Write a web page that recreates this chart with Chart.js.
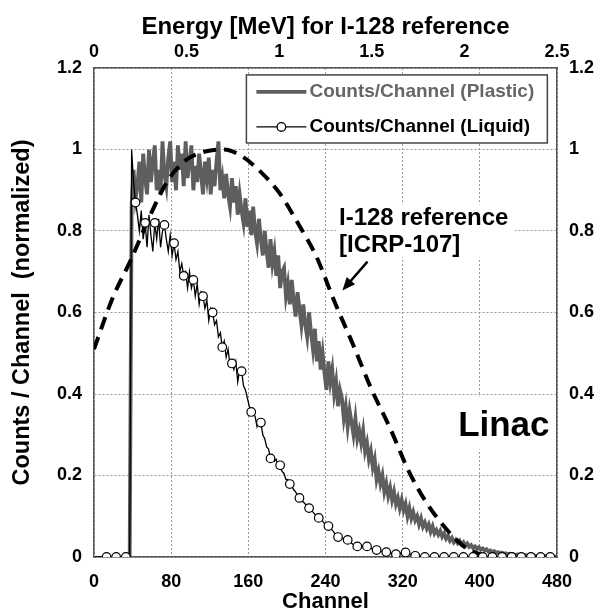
<!DOCTYPE html>
<html>
<head>
<meta charset="utf-8">
<script src="https://cdn.jsdelivr.net/npm/chart.js@4.4.1/dist/chart.umd.min.js"></script>
<style>
  html, body { margin: 0; padding: 0; background: #fff; }
  #chart { display: block; }
</style>
</head>
<body>
<canvas id="chart" width="598" height="615"></canvas>
<script>
// Axis ticks
const channelTicks = [0, 80, 160, 240, 320, 400, 480];
const energyTicks = [0, 0.5, 1, 1.5, 2, 2.5];
const countTicks = [0, 0.2, 0.4, 0.6, 0.8, 1, 1.2];

// Plastic scintillator, normalized counts, channels 37, 39, 41 ... 479
const plasticFirstChannel = 37;
const plasticCounts = [
    0, 0.86, 0.95, 0.88, 0.91, 0.97, 0.87, 0.99, 0.93, 0.89,
    1.00, 0.92, 0.97, 1.01, 0.90, 0.95, 0.89, 1.02, 0.94, 0.91,
    0.98, 1.02, 0.92, 0.97, 0.90, 1.01, 0.95, 0.99, 0.91, 1.02,
    0.93, 0.97, 1.01, 0.90, 0.96, 0.92, 0.99, 0.94, 0.89, 0.97,
    0.93, 0.98, 0.89, 0.95, 0.91, 0.97, 1.02, 0.90, 0.93, 0.88,
    0.94, 0.89, 0.86, 0.93, 0.87, 0.91, 0.84, 0.89, 0.85, 0.82,
    0.88, 0.81, 0.85, 0.79, 0.86, 0.80, 0.77, 0.83, 0.78, 0.74,
    0.80, 0.75, 0.71, 0.78, 0.72, 0.75, 0.69, 0.74, 0.66, 0.70,
    0.71, 0.64, 0.67, 0.62, 0.68, 0.63, 0.59, 0.65, 0.61, 0.57,
    0.62, 0.57, 0.54, 0.60, 0.55, 0.51, 0.56, 0.48, 0.53, 0.46,
    0.50, 0.45, 0.41, 0.48, 0.43, 0.46, 0.40, 0.43, 0.37, 0.41,
    0.39, 0.34, 0.37, 0.32, 0.36, 0.33, 0.30, 0.34, 0.29, 0.31,
    0.28, 0.31, 0.26, 0.28, 0.24, 0.26, 0.22, 0.24, 0.19, 0.21,
    0.18, 0.20, 0.16, 0.18, 0.15, 0.17, 0.14, 0.16, 0.13, 0.145,
    0.12, 0.14, 0.115, 0.13, 0.10, 0.12, 0.095, 0.11, 0.09, 0.10,
    0.08, 0.095, 0.075, 0.085, 0.07, 0.08, 0.062, 0.075, 0.058, 0.066,
    0.055, 0.064, 0.05, 0.058, 0.045, 0.052, 0.04, 0.047, 0.036, 0.042,
    0.034, 0.04, 0.031, 0.036, 0.027, 0.033, 0.025, 0.029, 0.022, 0.026,
    0.02, 0.024, 0.018, 0.021, 0.016, 0.019, 0.013, 0.016, 0.012, 0.014,
    0.01, 0.012, 0.009, 0.011, 0.008, 0.009, 0.007, 0.008, 0.006, 0.007,
    0.005, 0.006, 0.005, 0.005, 0.004, 0.005, 0.003, 0.004, 0.003, 0.004,
    0.003, 0.003, 0.002, 0.003, 0.002, 0.002, 0.002, 0.002, 0.001, 0.002,
    0.001, 0.001
];

// Liquid scintillator, normalized counts, channels 1, 3, 5 ... 479
const liquidFirstChannel = 1;
const liquidCounts = [
    0, 0, 0, 0, 0, 0, 0, 0, 0, 0,
    0, 0, 0, 0, 0, 0, 0, 0, 0, 1.0,
    0.92, 0.87, 0.84, 0.80, 0.85, 0.78, 0.82, 0.76, 0.84, 0.79,
    0.75, 0.82, 0.78, 0.83, 0.76, 0.80, 0.815, 0.78, 0.75, 0.79,
    0.74, 0.77, 0.73, 0.75, 0.70, 0.72, 0.69, 0.70, 0.66, 0.70,
    0.66, 0.68, 0.64, 0.67, 0.62, 0.65, 0.64, 0.61, 0.63, 0.58,
    0.61, 0.60, 0.57, 0.58, 0.54, 0.55, 0.515, 0.53, 0.49, 0.51,
    0.47, 0.475, 0.46, 0.48, 0.43, 0.46, 0.456, 0.42, 0.41, 0.39,
    0.37, 0.356, 0.35, 0.345, 0.32, 0.335, 0.33, 0.30, 0.29, 0.27,
    0.265, 0.242, 0.25, 0.235, 0.24, 0.22, 0.225, 0.21, 0.205, 0.19,
    0.19, 0.179, 0.175, 0.165, 0.16, 0.15, 0.145, 0.14, 0.135, 0.13,
    0.125, 0.12, 0.115, 0.11, 0.105, 0.10, 0.096, 0.092, 0.088, 0.082,
    0.08, 0.076, 0.07, 0.066, 0.06, 0.054, 0.049, 0.048, 0.046, 0.045,
    0.043, 0.042, 0.038, 0.034, 0.03, 0.028, 0.026, 0.026, 0.025, 0.027,
    0.026, 0.026, 0.023, 0.021, 0.019, 0.018, 0.017, 0.016, 0.015, 0.014,
    0.013, 0.012, 0.011, 0.01, 0.009, 0.008, 0.007, 0.008, 0.009, 0.01,
    0.011, 0.011, 0.009, 0.007, 0.005, 0.004, 0.003, 0.002, 0.002, 0.001,
    0.001, 0, 0, 0, 0, 0, 0, 0, 0, 0,
    0, 0, 0, 0, 0, 0, 0, 0, 0, 0,
    0, 0, 0, 0, 0, 0, 0, 0, 0, 0,
    0, 0, 0, 0, 0, 0, 0, 0, 0, 0,
    0, 0, 0, 0, 0, 0, 0, 0, 0, 0,
    0, 0, 0, 0, 0, 0, 0, 0, 0, 0,
    0, 0, 0, 0, 0, 0, 0, 0, 0, 0
];
// open circles sit on every 10th channel from channel 13
const liquidMarkerFrom = 13;
const liquidMarkerEvery = 10;

// I-128 beta spectrum reference [ICRP-107], plotted on the energy axis
const refEnergy = [0, 0.1, 0.2, 0.3, 0.4, 0.5, 0.6, 0.7, 0.8, 0.9, 1.0,
    1.1, 1.2, 1.3, 1.4, 1.5, 1.6, 1.7, 1.8, 1.9, 2.0, 2.1, 2.12];
const refValues = [0.51, 0.635, 0.73, 0.835, 0.925, 0.975, 0.995, 1.0, 0.983, 0.945, 0.894,
    0.82, 0.738, 0.625, 0.52, 0.41, 0.315, 0.21, 0.13, 0.07, 0.025, 0.004, 0];

const FONT = '"Liberation Sans", Arial, Helvetica, sans-serif';
const PLASTIC_GRAY = '#5e5e5e';

const plasticData = plasticCounts.map((v, i) => ({ x: plasticFirstChannel + 2 * i, y: v }));
const liquidData = liquidCounts.map((v, i) => ({ x: liquidFirstChannel + 2 * i, y: v }));
const refData = refEnergy.map((e, i) => ({ x: e, y: refValues[i] }));

function isMarker(ch) {
    return ch >= liquidMarkerFrom && (ch - liquidMarkerFrom) % liquidMarkerEvery === 0;
}

const plainNumber = v => String(Math.round(v * 100) / 100);

// white-backed labels, arrow and the framed legend
const annotations = {
    id: 'annotations',
    beforeDatasetsDraw(chart) {
        const { ctx, scales: { x, y } } = chart;
        ctx.save();

        // I-128 reference label
        ctx.fillStyle = '#fff';
        const bx = x.getPixelForValue(251), by = y.getPixelForValue(0.865);
        ctx.fillRect(bx, by, x.getPixelForValue(436) - bx, y.getPixelForValue(0.735) - by);
        ctx.fillStyle = '#000';
        ctx.font = 'bold 24px ' + FONT;
        ctx.textBaseline = 'middle';
        ctx.textAlign = 'left';
        ctx.fillText('I-128 reference', x.getPixelForValue(254), y.getPixelForValue(0.83));
        ctx.fillText('[ICRP-107]', x.getPixelForValue(254), y.getPixelForValue(0.765));

        // arrow
        const ax1 = x.getPixelForValue(283.5), ay1 = y.getPixelForValue(0.725);
        const ax2 = x.getPixelForValue(257.5), ay2 = y.getPixelForValue(0.654);
        const ang = Math.atan2(ay2 - ay1, ax2 - ax1);
        ctx.strokeStyle = '#000';
        ctx.lineWidth = 2.5;
        ctx.beginPath();
        ctx.moveTo(ax1, ay1);
        ctx.lineTo(ax2 - 8 * Math.cos(ang), ay2 - 8 * Math.sin(ang));
        ctx.stroke();
        ctx.beginPath();
        ctx.moveTo(ax2, ay2);
        ctx.lineTo(ax2 - 13 * Math.cos(ang) + 5.5 * Math.sin(ang), ay2 - 13 * Math.sin(ang) - 5.5 * Math.cos(ang));
        ctx.lineTo(ax2 - 13 * Math.cos(ang) - 5.5 * Math.sin(ang), ay2 - 13 * Math.sin(ang) + 5.5 * Math.cos(ang));
        ctx.closePath();
        ctx.fill();

        // Linac
        ctx.fillStyle = '#fff';
        const lx = x.getPixelForValue(373.5), ly = y.getPixelForValue(0.394);
        ctx.fillRect(lx, ly, x.getPixelForValue(475) - lx, y.getPixelForValue(0.264) - ly);
        ctx.fillStyle = '#000';
        ctx.font = 'bold 35px ' + FONT;
        ctx.textBaseline = 'alphabetic';
        ctx.fillText('Linac', x.getPixelForValue(377.5), y.getPixelForValue(0.296));
        ctx.restore();
    },
    afterDatasetsDraw(chart) {
        const { ctx, scales: { x, y } } = chart;
        const left = x.getPixelForValue(158), right = x.getPixelForValue(470);
        const top = y.getPixelForValue(1.183), bottom = y.getPixelForValue(1.016);
        ctx.save();
        ctx.fillStyle = '#fff';
        ctx.fillRect(left, top, right - left, bottom - top);
        ctx.strokeStyle = '#444';
        ctx.lineWidth = 1.5;
        ctx.strokeRect(left, top, right - left, bottom - top);

        const row1 = top + 17, row2 = top + 52;
        const s1 = left + 10, s2 = left + 60;

        ctx.strokeStyle = PLASTIC_GRAY;
        ctx.lineWidth = 3.8;
        ctx.beginPath();
        ctx.moveTo(s1, row1);
        ctx.lineTo(s2, row1);
        ctx.stroke();

        ctx.strokeStyle = '#000';
        ctx.lineWidth = 1.3;
        ctx.beginPath();
        ctx.moveTo(s1, row2);
        ctx.lineTo(s2, row2);
        ctx.stroke();
        ctx.beginPath();
        ctx.arc((s1 + s2) / 2, row2, 4.3, 0, Math.PI * 2);
        ctx.fillStyle = '#fff';
        ctx.fill();
        ctx.stroke();

        ctx.font = 'bold 19px ' + FONT;
        ctx.textBaseline = 'middle';
        ctx.textAlign = 'left';
        ctx.fillStyle = '#666';
        ctx.fillText('Counts/Channel (Plastic)', s2 + 3, row1);
        ctx.fillStyle = '#000';
        ctx.fillText('Counts/Channel (Liquid)', s2 + 3, row2);
        ctx.restore();
    }
};

const tickFont = { family: FONT, size: 18, weight: 'bold' };

const ctx = document.getElementById('chart').getContext('2d');
const chart = new Chart(ctx, {
    type: 'line',
    data: {
        datasets: [
            {
                label: 'Counts/Channel (Liquid)',
                data: liquidData,
                xAxisID: 'x',
                yAxisID: 'y',
                borderColor: '#000',
                borderWidth: 1.3,
                pointRadius: c => isMarker(c.raw ? c.raw.x : -1) ? 4.3 : 0,
                pointBackgroundColor: '#fff',
                pointBorderColor: '#000',
                pointBorderWidth: 1.2,
                pointHoverRadius: 0,
                order: 0
            },
            {
                label: 'I-128 reference [ICRP-107]',
                data: refData,
                xAxisID: 'x2',
                yAxisID: 'y',
                borderColor: '#000',
                borderWidth: 4,
                borderDash: [13, 8],
                cubicInterpolationMode: 'monotone',
                pointRadius: 0,
                order: 1
            },
            {
                label: 'Counts/Channel (Plastic)',
                data: plasticData,
                xAxisID: 'x',
                yAxisID: 'y',
                borderColor: PLASTIC_GRAY,
                borderWidth: 3.8,
                borderJoinStyle: 'miter',
                pointRadius: 0,
                order: 2
            }
        ]
    },
    options: {
        responsive: false,
        animation: false,
        events: [],
        layout: { padding: 0 },
        plugins: {
            legend: { display: false },
            tooltip: { enabled: false }
        },
        scales: {
            x: {
                type: 'linear',
                position: 'bottom',
                min: 0,
                max: 480,
                afterBuildTicks: s => { s.ticks = channelTicks.map(v => ({ value: v })); },
                afterFit: s => { s.height = 58; },
                ticks: { font: tickFont, color: '#000', padding: 14, maxRotation: 0, autoSkip: false, callback: plainNumber },
                grid: { color: '#9a9a9a', lineWidth: 1, drawTicks: false },
                border: { color: '#555', width: 1.5, dash: [2, 2] },
                title: { display: true, text: 'Channel', font: { family: FONT, size: 22, weight: 'bold' }, color: '#000', padding: { top: 0, bottom: 0 } }
            },
            x2: {
                type: 'linear',
                position: 'top',
                min: 0,
                max: 2.5,
                afterBuildTicks: s => { s.ticks = energyTicks.map(v => ({ value: v })); },
                afterFit: s => { s.height = 68; },
                ticks: { font: tickFont, color: '#000', padding: 5, maxRotation: 0, autoSkip: false, callback: plainNumber },
                grid: { display: false, drawTicks: false },
                border: { color: '#555', width: 1.5 },
                title: { display: true, text: 'Energy [MeV] for I-128 reference', font: { family: FONT, size: 24, weight: 'bold' }, color: '#000', padding: { top: 13, bottom: 0 } }
            },
            y: {
                type: 'linear',
                position: 'left',
                min: 0,
                max: 1.2,
                afterBuildTicks: s => { s.ticks = countTicks.map(v => ({ value: v })); },
                afterFit: s => { s.width = 94; },
                ticks: { font: tickFont, color: '#000', padding: 12, callback: plainNumber },
                grid: { color: '#9a9a9a', lineWidth: 1, drawTicks: false },
                border: { color: '#555', width: 1.5, dash: [2, 2] },
                title: { display: true, text: 'Counts / Channel  (normalized)', font: { family: FONT, size: 23.5, weight: 'bold' }, color: '#000', padding: { top: 8, bottom: 0 } }
            },
            y2: {
                type: 'linear',
                position: 'right',
                min: 0,
                max: 1.2,
                afterBuildTicks: s => { s.ticks = countTicks.map(v => ({ value: v })); },
                afterFit: s => { s.width = 41; },
                ticks: { font: tickFont, color: '#000', padding: 12, callback: plainNumber },
                grid: { display: false, drawTicks: false },
                border: { color: '#555', width: 1.5 }
            }
        }
    },
    plugins: [annotations]
});
</script>
</body>
</html>
